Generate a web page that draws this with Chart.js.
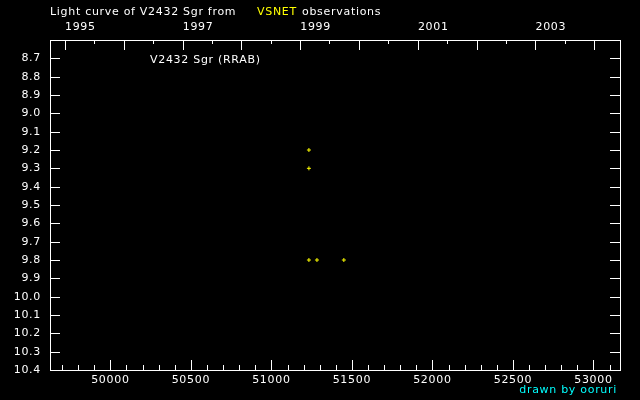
<!DOCTYPE html>
<html>
<head>
<meta charset="utf-8">
<script src="https://cdn.jsdelivr.net/npm/chart.js@4"></script>
<style>
  body { margin: 0; background: #000; }
  canvas { display: block; }
</style>
</head>
<body>
<canvas id="lightCurve" width="640" height="400"></canvas>
<script>
// observations (MJD, visual magnitude)
let obsMjd = [51233, 51233, 51233, 51283, 51450];
let obsMag = [9.2, 9.3, 9.8, 9.8, 9.8];

let magTicks = [8.7, 8.8, 8.9, 9.0, 9.1, 9.2, 9.3, 9.4, 9.5, 9.6, 9.7, 9.8, 9.9, 10.0, 10.1, 10.2, 10.3, 10.4];
let mjdLabels = [50000, 50500, 51000, 51500, 52000, 52500, 53000];
let years = [1995, 1996, 1997, 1998, 1999, 2000, 2001, 2002, 2003, 2004];
let yearMjd = [49718, 50083, 50449, 50814, 51179, 51544, 51910, 52275, 52640, 53005];
let yearLabels = [1995, 1997, 1999, 2001, 2003];

const font = '11px "DejaVu Sans", sans-serif';

const frame = {
  id: 'frame',
  afterDraw(chart) {
    const {ctx, chartArea: a, scales} = chart;
    const x = scales.x, y = scales.y;
    ctx.save();
    ctx.strokeStyle = '#fff';
    ctx.lineWidth = 1;
    ctx.strokeRect(a.left + 0.5, a.top + 0.5, a.right - a.left, a.bottom - a.top);

    ctx.beginPath();
    // magnitude ticks, both sides
    magTicks.forEach(m => {
      let py = Math.round(y.getPixelForValue(m)) + 0.5;
      ctx.moveTo(a.left, py); ctx.lineTo(a.left + 10, py);
      ctx.moveTo(a.right, py); ctx.lineTo(a.right - 10, py);
    });
    // MJD ticks on bottom, every 100 days
    for (let d = 49700; d <= 53100; d += 100) {
      let px = Math.round(x.getPixelForValue(d)) + 0.5;
      let len = d % 500 === 0 ? 10 : 5;
      ctx.moveTo(px, a.bottom); ctx.lineTo(px, a.bottom - len);
    }
    // year ticks on top, every half year
    yearMjd.forEach(d => {
      let px = Math.round(x.getPixelForValue(d)) + 0.5;
      ctx.moveTo(px, a.top); ctx.lineTo(px, a.top + 10);
      let h = d + 181;
      if (h < x.max) {
        let ph = Math.round(x.getPixelForValue(h)) + 0.5;
        ctx.moveTo(ph, a.top); ctx.lineTo(ph, a.top + 4);
      }
    });
    ctx.stroke();

    ctx.font = font;
    ctx.letterSpacing = '0.7px';
    ctx.fillStyle = '#fff';
    ctx.textBaseline = 'middle';
    ctx.textAlign = 'right';
    magTicks.forEach(m => {
      ctx.fillText(m.toFixed(1), a.left - 9, y.getPixelForValue(m));
    });
    ctx.textAlign = 'center';
    mjdLabels.forEach(d => {
      ctx.fillText(String(d), x.getPixelForValue(d), a.bottom + 10);
    });
    ctx.textAlign = 'left';
    yearLabels.forEach(yr => {
      let d = yearMjd[years.indexOf(yr)];
      ctx.fillText(String(yr), x.getPixelForValue(d), 27);
    });

    // titles
    ctx.fillText('Light curve of V2432 Sgr from', 50, 12);
    ctx.fillStyle = '#ffff00';
    ctx.fillText('VSNET', 257, 12);
    ctx.fillStyle = '#fff';
    ctx.fillText('observations', 302, 12);
    ctx.fillText('V2432 Sgr (RRAB)', 150, 60);
    ctx.fillStyle = '#00ffff';
    ctx.textAlign = 'right';
    ctx.fillText('drawn by ooruri', 617, 390);
    ctx.restore();
  }
};

let lc = new Chart(document.getElementById('lightCurve').getContext('2d'), {
  type: 'scatter',
  data: {
    datasets: [{
      label: 'VSNET',
      data: obsMjd.map((d, i) => ({x: d, y: obsMag[i]})),
      pointStyle: 'cross',
      radius: 2,
      borderColor: '#ffff00',
      borderWidth: 1
    }]
  },
  options: {
    responsive: false,
    animation: false,
    layout: { padding: { left: 50, right: 20, top: 40, bottom: 30 } },
    plugins: { legend: { display: false }, tooltip: { enabled: false } },
    scales: {
      x: { type: 'linear', min: 49625, max: 53165, display: false },
      y: { type: 'linear', min: 8.6, max: 10.4, reverse: true, display: false }
    }
  },
  plugins: [frame]
});
</script>
</body>
</html>
